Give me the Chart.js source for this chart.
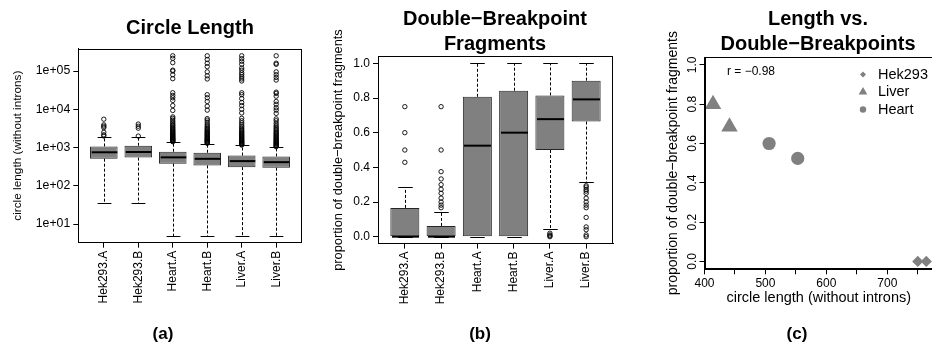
<!DOCTYPE html>
<html>
<head>
<meta charset="utf-8">
<script src="https://cdn.jsdelivr.net/npm/chart.js@4.4.1/dist/chart.umd.min.js"></script>
<style>
  html, body { margin: 0; padding: 0; background: #fff; }
  #wrap { position: relative; width: 932px; height: 356px; overflow: hidden; background: #fff;
          font-family: "Liberation Sans", Arial, Helvetica, sans-serif; color: #000; }
  canvas { position: absolute; top: 0; }
  .title { position: absolute; font-weight: bold; font-size: 20px; line-height: 24.5px; text-align: center; white-space: nowrap; }
  .cap { position: absolute; font-weight: bold; font-size: 17px; line-height: 20px; text-align: center; width: 60px; }
</style>
</head>
<body>
<div id="wrap">
  <canvas id="cA" width="310" height="356" style="left:0px"></canvas>
  <canvas id="cB" width="310" height="356" style="left:310px"></canvas>
  <canvas id="cC" width="330" height="356" style="left:620px"></canvas>
  <div class="title" style="left:90px;width:200px;top:15px">Circle Length</div>
  <div class="title" style="left:395px;width:200px;top:6px">Double−Breakpoint<br>Fragments</div>
  <div class="title" style="left:718px;width:200px;top:6px">Length vs.<br>Double−Breakpoints</div>
  <div class="cap" style="left:133px;top:324px">(a)</div>
  <div class="cap" style="left:450px;top:324px">(b)</div>
  <div class="cap" style="left:767px;top:324px">(c)</div>
</div>
<script>
// ---------------- data ----------------
const categories = ['Hek293.A', 'Hek293.B', 'Heart.A', 'Heart.B', 'Liver.A', 'Liver.B'];

// Panel (a): circle length (log scale) box statistics
const lenQ1     = [510, 545, 378, 340, 307, 296];
const lenMedian = [750, 764, 553, 506, 441, 414];
const lenQ3     = [1065, 1110, 775, 730, 617, 585];
const lenLow    = [35, 35, 5, 5, 5, 5];
const lenHigh   = [1860, 1860, 1380, 1250, 1130, 1020];
const lenOutliersHekA  = [2000, 2150, 2500, 3300, 3600, 3900, 5500];
const lenOutliersHekB  = [1990, 3200, 3600, 4100];
const lenOutliersHeartA = [1420, 1460, 1500, 1550, 1600, 1650, 1700, 1760, 1820, 1900, 1980, 2060, 2150, 2250, 2350, 2480, 2600, 2750, 2900, 3050, 3250, 3450, 3700, 3950, 4300, 4700, 5200, 5800, 6300, 9300, 12500, 17000, 20000, 23000, 27000, 63000, 80000, 100000, 105000, 165000, 215000, 250000];
const lenOutliersHeartB = [1290, 1330, 1380, 1430, 1480, 1540, 1600, 1670, 1740, 1820, 1900, 2000, 2100, 2200, 2320, 2450, 2600, 2750, 2950, 3150, 3400, 3700, 4100, 4600, 5200, 5700, 9500, 12000, 16000, 20000, 24000, 62000, 75000, 95000, 130000, 160000, 200000, 250000];
const lenOutliersLiverA = [1160, 1200, 1240, 1290, 1340, 1390, 1450, 1510, 1580, 1650, 1730, 1820, 1920, 2030, 2150, 2280, 2420, 2580, 2750, 2950, 3200, 3500, 3900, 4400, 5000, 5800, 8000, 10000, 12500, 15000, 19000, 24000, 27000, 55000, 62000, 70000, 80000, 90000, 105000, 120000, 150000, 180000, 210000, 250000];
const lenOutliersLiverB = [1050, 1090, 1130, 1170, 1220, 1270, 1320, 1380, 1440, 1510, 1580, 1660, 1750, 1850, 1960, 2080, 2210, 2350, 2500, 2700, 2900, 3150, 3450, 3800, 4300, 5000, 5600, 7800, 9500, 11000, 13500, 16000, 22000, 26000, 28000, 58000, 68000, 80000, 95000, 150000, 160000, 250000];
const lenTicks = [10, 100, 1000, 10000, 100000];
const lenTickLabels = ['1e+01', '1e+02', '1e+03', '1e+04', '1e+05'];

// Panel (b): proportion of double-breakpoint fragments box statistics
const propQ1     = [0, 0, 0, 0, 0.5, 0.664];
const propMedian = [0, 0, 0.525, 0.6, 0.678, 0.792];
const propQ3     = [0.166, 0.062, 0.807, 0.842, 0.815, 0.9];
const propLow    = [0, 0, 0, 0, 0.046, 0.317];
const propHigh   = [0.286, 0.143, 1, 1, 1, 1];
const propOutliersHekA  = [0.429, 0.5, 0.6, 0.75];
const propOutliersHekB  = [0.167, 0.182, 0.2, 0.222, 0.25, 0.273, 0.3, 0.333, 0.375, 0.5, 0.75];
const propOutliersHeartA = [];
const propOutliersHeartB = [];
const propOutliersLiverA = [0, 0.005, 0.01, 0.02];
const propOutliersLiverB = [0, 0.01, 0.04, 0.056, 0.111, 0.167, 0.182, 0.2, 0.222, 0.25, 0.263, 0.273, 0.286, 0.294];
const propTicks = [0, 0.2, 0.4, 0.6, 0.8, 1.0];

// Panel (c): median length vs median proportion
const hekLength   = [750, 764];  const hekProp   = [0, 0];
const liverLength = [441, 414];  const liverProp = [0.685, 0.80];
const heartLength = [553, 506];  const heartProp = [0.524, 0.60];
const lengthTicks = [400, 450, 500, 550, 600, 650, 700, 750];
const lengthTickLabels = ['400', '', '500', '', '600', '', '700', ''];
const legendLabels = ['Hek293', 'Liver', 'Heart'];
const corrText = 'r = \u22120.98';

// ---------------- helpers ----------------
const FONT = "'Liberation Sans', Arial, Helvetica, sans-serif";
Chart.defaults.font.family = FONT;
Chart.defaults.color = '#000';
const GRAY = '#808080';

const gridOpts = () => ({ display: true, drawOnChartArea: false, drawTicks: true, tickLength: 5, color: '#000', lineWidth: 1, offset: false });
const borderOpts = () => ({ display: true, color: '#000', width: 1 });

function drawFrame(chart) {
  const { ctx, chartArea: a } = chart;
  const l = Math.round(a.left), t = Math.round(a.top), r = Math.round(a.right), b = Math.round(a.bottom);
  ctx.save();
  ctx.fillStyle = '#000';
  ctx.fillRect(l, t, r - l, 1);         // top
  ctx.fillRect(l, b - 1, r - l, 1);     // bottom
  ctx.fillRect(l, t, 1, b - t);         // left
  ctx.fillRect(r - 1, t, 1, b - t);     // right
  ctx.restore();
}

function boxPartsPlugin(q1, med, q3, lo, hi) {
  return {
    id: 'boxParts',
    afterDatasetsDraw(chart) {
      const { ctx, scales: { x, y } } = chart;
      const meta = chart.getDatasetMeta(0);
      ctx.save();
      ctx.strokeStyle = '#000';
      const seg = (x1, y1, x2, y2) => { ctx.beginPath(); ctx.moveTo(x1, y1); ctx.lineTo(x2, y2); ctx.stroke(); };
      med.forEach((m, i) => {
        const bar = meta.data[i];
        const half = bar.width / 2;
        const cx = Math.round(x.getPixelForValue(i + 1)) + 0.5;
        const yq1 = y.getPixelForValue(q1[i]), yq3 = y.getPixelForValue(q3[i]);
        const ylo = Math.round(y.getPixelForValue(lo[i])) + 0.5, yhi = Math.round(y.getPixelForValue(hi[i])) + 0.5;
        ctx.lineWidth = 1;
        ctx.setLineDash([3, 2]);
        if (hi[i] > q3[i]) seg(cx, yq3, cx, yhi);
        if (lo[i] < q1[i]) seg(cx, yq1, cx, ylo);
        ctx.setLineDash([]);
        seg(cx - half / 2, yhi, cx + half / 2, yhi);
        seg(cx - half / 2, ylo, cx + half / 2, ylo);
        ctx.lineWidth = 2;
        const ym = y.getPixelForValue(m);
        seg(cx - half + 1, ym, cx + half - 1, ym);
      });
      ctx.restore();
      drawFrame(chart);
    }
  };
}

function boxChart(canvasId, stats, yScale, layout) {
  const { q1, med, q3, lo, hi, out } = stats;
  const boxData = categories.map((c, i) => ({ x: i + 1, y: [q1[i], q3[i]] }));
  const outData = [];
  out.forEach((arr, i) => arr.forEach(v => outData.push({ x: i + 1, y: v })));
  return new Chart(document.getElementById(canvasId), {
    type: 'bar',
    data: {
      datasets: [
        { type: 'bar', data: boxData, backgroundColor: GRAY, borderColor: '#262626', borderWidth: 1,
          borderSkipped: false, barPercentage: 0.8, categoryPercentage: 1, grouped: false },
        { type: 'scatter', data: outData, pointStyle: 'circle', pointRadius: 2.2,
          pointBorderColor: '#000', pointBackgroundColor: 'rgba(0,0,0,0)', pointBorderWidth: 0.9 }
      ]
    },
    options: {
      responsive: false, animation: false, events: [],
      layout: { padding: layout.padding },
      plugins: { legend: { display: false }, tooltip: { enabled: false } },
      scales: {
        x: {
          type: 'linear', offset: false, min: 0.26, max: 6.74,
          afterBuildTicks: ax => { ax.ticks = categories.map((c, i) => ({ value: i + 1 })); },
          afterFit: s => { s.height = layout.xHeight; },
          ticks: { autoSkip: false, minRotation: 90, maxRotation: 90, padding: 3, font: { size: 12 }, color: '#000',
                   callback: (v, i) => categories[i] },
          grid: gridOpts(), border: borderOpts()
        },
        y: Object.assign({
          afterFit: s => { s.width = layout.yWidth; },
          grid: gridOpts(), border: borderOpts()
        }, yScale)
      }
    },
    plugins: [boxPartsPlugin(q1, med, q3, lo, hi)]
  });
}

// ---------------- panel (a) ----------------
boxChart('cA',
  { q1: lenQ1, med: lenMedian, q3: lenQ3, lo: lenLow, hi: lenHigh,
    out: [lenOutliersHekA, lenOutliersHekB, lenOutliersHeartA, lenOutliersHeartB, lenOutliersLiverA, lenOutliersLiverB] },
  {
    type: 'logarithmic', min: 3.245, max: 385500,
    afterBuildTicks: ax => { ax.ticks = lenTicks.map(v => ({ value: v })); },
    ticks: { autoSkip: false, padding: 3, font: { size: 12.3 }, color: '#000', callback: (v, i) => lenTickLabels[i] },
    title: { display: true, text: 'circle length (without introns)', font: { size: 11.8 }, color: '#000', padding: { top: 11, bottom: 0 } }
  },
  { padding: { left: 0, right: 8.3, top: 48.6, bottom: 0 }, xHeight: 113.3, yWidth: 78.3 }
);

// ---------------- panel (b) ----------------
boxChart('cB',
  { q1: propQ1, med: propMedian, q3: propQ3, lo: propLow, hi: propHigh,
    out: [propOutliersHekA, propOutliersHekB, propOutliersHeartA, propOutliersHeartB, propOutliersLiverA, propOutliersLiverB] },
  {
    type: 'linear', min: -0.04, max: 1.04,
    afterBuildTicks: ax => { ax.ticks = propTicks.map(v => ({ value: v })); },
    ticks: { autoSkip: false, padding: 3, font: { size: 12 }, color: '#000', callback: v => v.toFixed(1) },
    title: { display: true, text: 'proportion of double\u2212breakpoint fragments', font: { size: 12.8 }, color: '#000', padding: { top: 20.5, bottom: 0 } }
  },
  { padding: { left: 0, right: 7, top: 56.4, bottom: 0 }, xHeight: 112.4, yWidth: 68 }
);

// ---------------- panel (c) ----------------
const legendPlugin = {
  id: 'legendInside',
  afterDraw(chart) {
    drawFrame(chart);
    const { ctx } = chart;
    ctx.save();
    ctx.fillStyle = GRAY;
    const mx = 243;
    ctx.beginPath(); ctx.moveTo(mx - 3, 74.5); ctx.lineTo(mx, 71.5); ctx.lineTo(mx + 3, 74.5); ctx.lineTo(mx, 77.5); ctx.closePath(); ctx.fill();
    const r = 5;
    ctx.beginPath(); ctx.moveTo(mx, 92 - r); ctx.lineTo(mx + r * 0.866, 92 + r / 2); ctx.lineTo(mx - r * 0.866, 92 + r / 2); ctx.closePath(); ctx.fill();
    ctx.beginPath(); ctx.arc(mx, 109.5, 3.2, 0, Math.PI * 2); ctx.fill();
    ctx.fillStyle = '#000';
    ctx.font = '14.5px ' + FONT;
    ctx.textBaseline = 'middle';
    ctx.textAlign = 'left';
    legendLabels.forEach((t, i) => ctx.fillText(t, 258, 75 + i * 17.3));
    ctx.font = '12px ' + FONT;
    ctx.fillText(corrText, 107, 72);
    ctx.restore();
  }
};

new Chart(document.getElementById('cC'), {
  type: 'scatter',
  data: {
    datasets: [
      { label: 'Hek293', data: hekLength.map((v, i) => ({ x: v, y: hekProp[i] })), pointStyle: 'rectRot', pointRadius: 5.6, backgroundColor: GRAY, borderWidth: 0 },
      { label: 'Liver', data: liverLength.map((v, i) => ({ x: v, y: liverProp[i] })), pointStyle: 'triangle', pointRadius: 9.5, backgroundColor: GRAY, borderWidth: 0 },
      { label: 'Heart', data: heartLength.map((v, i) => ({ x: v, y: heartProp[i] })), pointStyle: 'circle', pointRadius: 6.6, backgroundColor: GRAY, borderWidth: 0 }
    ]
  },
  options: {
    responsive: false, animation: false, events: [],
    layout: { padding: { left: 0, right: 17, top: 57, bottom: 0 } },
    plugins: { legend: { display: false }, tooltip: { enabled: false } },
    scales: {
      x: {
        type: 'linear', min: 400, max: 775,
        afterBuildTicks: ax => { ax.ticks = lengthTicks.map(v => ({ value: v })); },
        afterFit: s => { s.height = 86.7; },
        ticks: { autoSkip: false, maxRotation: 0, minRotation: 0, padding: 2, font: { size: 12 }, color: '#000', callback: (v, i) => lengthTickLabels[i] },
        title: { display: true, text: 'circle length (without introns)', font: { size: 14.5 }, color: '#000', padding: { top: 0, bottom: 49 } },
        grid: gridOpts(), border: borderOpts()
      },
      y: {
        type: 'linear', min: -0.04, max: 1.04,
        afterBuildTicks: ax => { ax.ticks = propTicks.map(v => ({ value: v })); },
        afterFit: s => { s.width = 84.5; },
        ticks: { autoSkip: false, minRotation: 90, maxRotation: 90, crossAlign: 'center', padding: -2, font: { size: 12 }, color: '#000', callback: v => v.toFixed(1) },
        title: { display: true, text: 'proportion of double\u2212breakpoint fragments', font: { size: 14 }, color: '#000', padding: { top: 44.6, bottom: 0 } },
        grid: gridOpts(), border: borderOpts()
      }
    }
  },
  plugins: [legendPlugin]
});
</script>
</body>
</html>
